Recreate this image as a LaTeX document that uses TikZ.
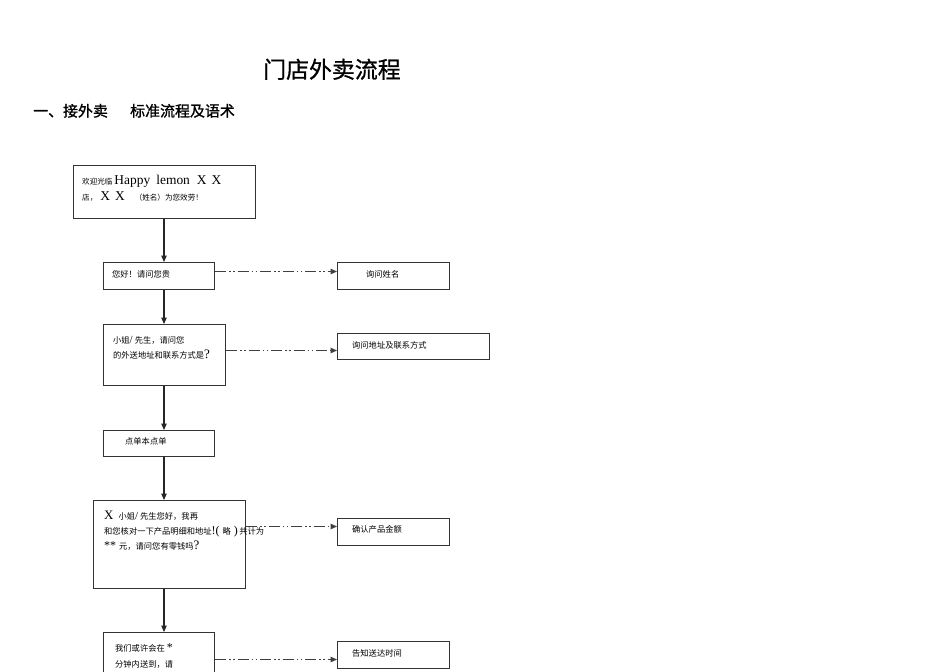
\documentclass[tikz,border=0pt]{standalone}
\usepackage{fontspec}
\setmainfont{Liberation Serif}
\newfontfamily\cjk{Noto Sans CJK SC}
\newfontfamily\cjkhead[FakeBold=1.2]{Noto Sans CJK SC}
\newfontfamily\cjktitle[FakeBold=0.8]{Noto Sans CJK SC}
\usetikzlibrary{arrows.meta}
\newcommand{\zh}[1]{{\cjk\fontsize{8.3}{9}\selectfont #1}}
\newcommand{\zhs}[1]{{\cjk\fontsize{7.6}{9}\selectfont #1}}
\newcommand{\lat}[2]{{\fontsize{#1}{#1}\selectfont #2}}
\tikzset{
  box/.style={draw=black!80, line width=1bp, inner sep=0pt, anchor=north west},
  txt/.style={anchor=base west, inner sep=0pt, text=black, font=\fontsize{11}{13}\selectfont},
  flow/.style={-{Triangle[length=6.5bp,width=5.5bp]}, line width=1.2bp, draw=black!85},
  side/.style={-{Triangle[length=6.5bp,width=5.5bp]}, line width=1.1bp, draw=black!75,
    dash pattern=on 11bp off 3bp on 1.5bp off 2.5bp on 1.5bp off 3bp}
}
\begin{document}
\begin{tikzpicture}[x=1bp,y=-1bp]
\useasboundingbox[fill=white] (0,0) rectangle (950,672);

% headings
\node[txt] (title) at (263,78) {\cjktitle\fontsize{23}{25}\selectfont 门店外卖流程};
\node[txt] (sub1) at (33,116.5) {\cjkhead\fontsize{15}{17}\selectfont 一、接外卖};
\node[txt] (sub2) at (130,116.5) {\cjkhead\fontsize{15}{17}\selectfont 标准流程及语术};

% main column boxes
\node[box, minimum width=182bp, minimum height=53bp] (A) at (73,165) {};
\node[box, minimum width=111bp, minimum height=27bp] (B) at (103,262) {};
\node[box, minimum width=122bp, minimum height=61bp] (C) at (103,324) {};
\node[box, minimum width=111bp, minimum height=26bp] (D) at (103,430) {};
\node[box, minimum width=152bp, minimum height=88bp] (E) at (93,500) {};
\node[box, minimum width=111bp, minimum height=62bp] (F) at (103,632) {};

% side boxes
\node[box, minimum width=112bp, minimum height=27bp] (Bp) at (337,262) {};
\node[box, minimum width=152bp, minimum height=26bp] (Cp) at (337,333) {};
\node[box, minimum width=112bp, minimum height=27bp] (Ep) at (337,518) {};
\node[box, minimum width=112bp, minimum height=27bp] (Fp) at (337,641) {};

% texts in main boxes
\node[txt] (a1) at (82,185) {\zhs{欢迎光临}\hspace{2bp}\lat{13.5}{Happy\hspace{6bp}lemon\hspace{7bp}X\hspace{5bp}X}};
\node[txt] (a2) at (82,200) {\zhs{店，}\hspace{3bp}\lat{13.5}{X\hspace{5bp}X}\hspace{10bp}\zhs{（姓名）为您效劳！}};
\node[txt] (b1) at (112,277) {\zh{您好！请问您贵}};
\node[txt] (c1) at (113,343) {\zh{小姐}\lat{11}{/}\hspace{2bp}\zh{先生，请问您}};
\node[txt] (c2) at (113,358) {\zh{的外送地址和联系方式是}\lat{13}{?}};
\node[txt] (d1) at (125,444) {\zh{点单本点单}};
\node[txt] (e1) at (104,519) {\lat{13}{X}\hspace{5bp}\zh{小姐}\lat{11}{/}\hspace{2bp}\zh{先生您好，我再}};
\node[txt] (e2) at (104,534) {\zh{和您核对一下产品明细和地址}\lat{12}{!(}\hspace{3bp}\zh{略}\hspace{3bp}\lat{12}{)}\hspace{1.5bp}\zh{共计为}};
\node[txt] (e3) at (104,549) {\lat{12}{**}\hspace{3bp}\zh{元，请问您有零钱吗}\lat{13}{?}};
\node[txt] (f1) at (115,651) {\zh{我们或许会在}\hspace{2bp}\lat{12}{*}};
\node[txt] (f2) at (115,667) {\zh{分钟内送到，请}};

% texts in side boxes
\node[txt] (bp1) at (366,277) {\zh{询问姓名}};
\node[txt] (cp1) at (352,348) {\zh{询问地址及联系方式}};
\node[txt] (ep1) at (352,532) {\zh{确认产品金额}};
\node[txt] (fp1) at (352,656) {\zh{告知送达时间}};

% main flow
\coordinate (axis) at (164,0);
\draw[flow] (axis |- A.south) -- (axis |- B.north);
\draw[flow] (axis |- B.south) -- (axis |- C.north);
\draw[flow] (axis |- C.south) -- (axis |- D.north);
\draw[flow] (axis |- D.south) -- (axis |- E.north);
\draw[flow] (axis |- E.south) -- (axis |- F.north);

% side connectors
\draw[side] ([yshift=4.5bp]B.east) coordinate (s1) -- (s1 -| Bp.west);
\draw[side] ([yshift=4.5bp]C.east) coordinate (s2) -- (s2 -| Cp.west);
\draw[side] ([yshift=18bp]E.east) coordinate (s3) -- (s3 -| Ep.west);
\coordinate (s4) at ([yshift=-4.5bp]Fp.west);
\draw[side] (s4 -| F.east) -- (s4);
\end{tikzpicture}
\end{document}
